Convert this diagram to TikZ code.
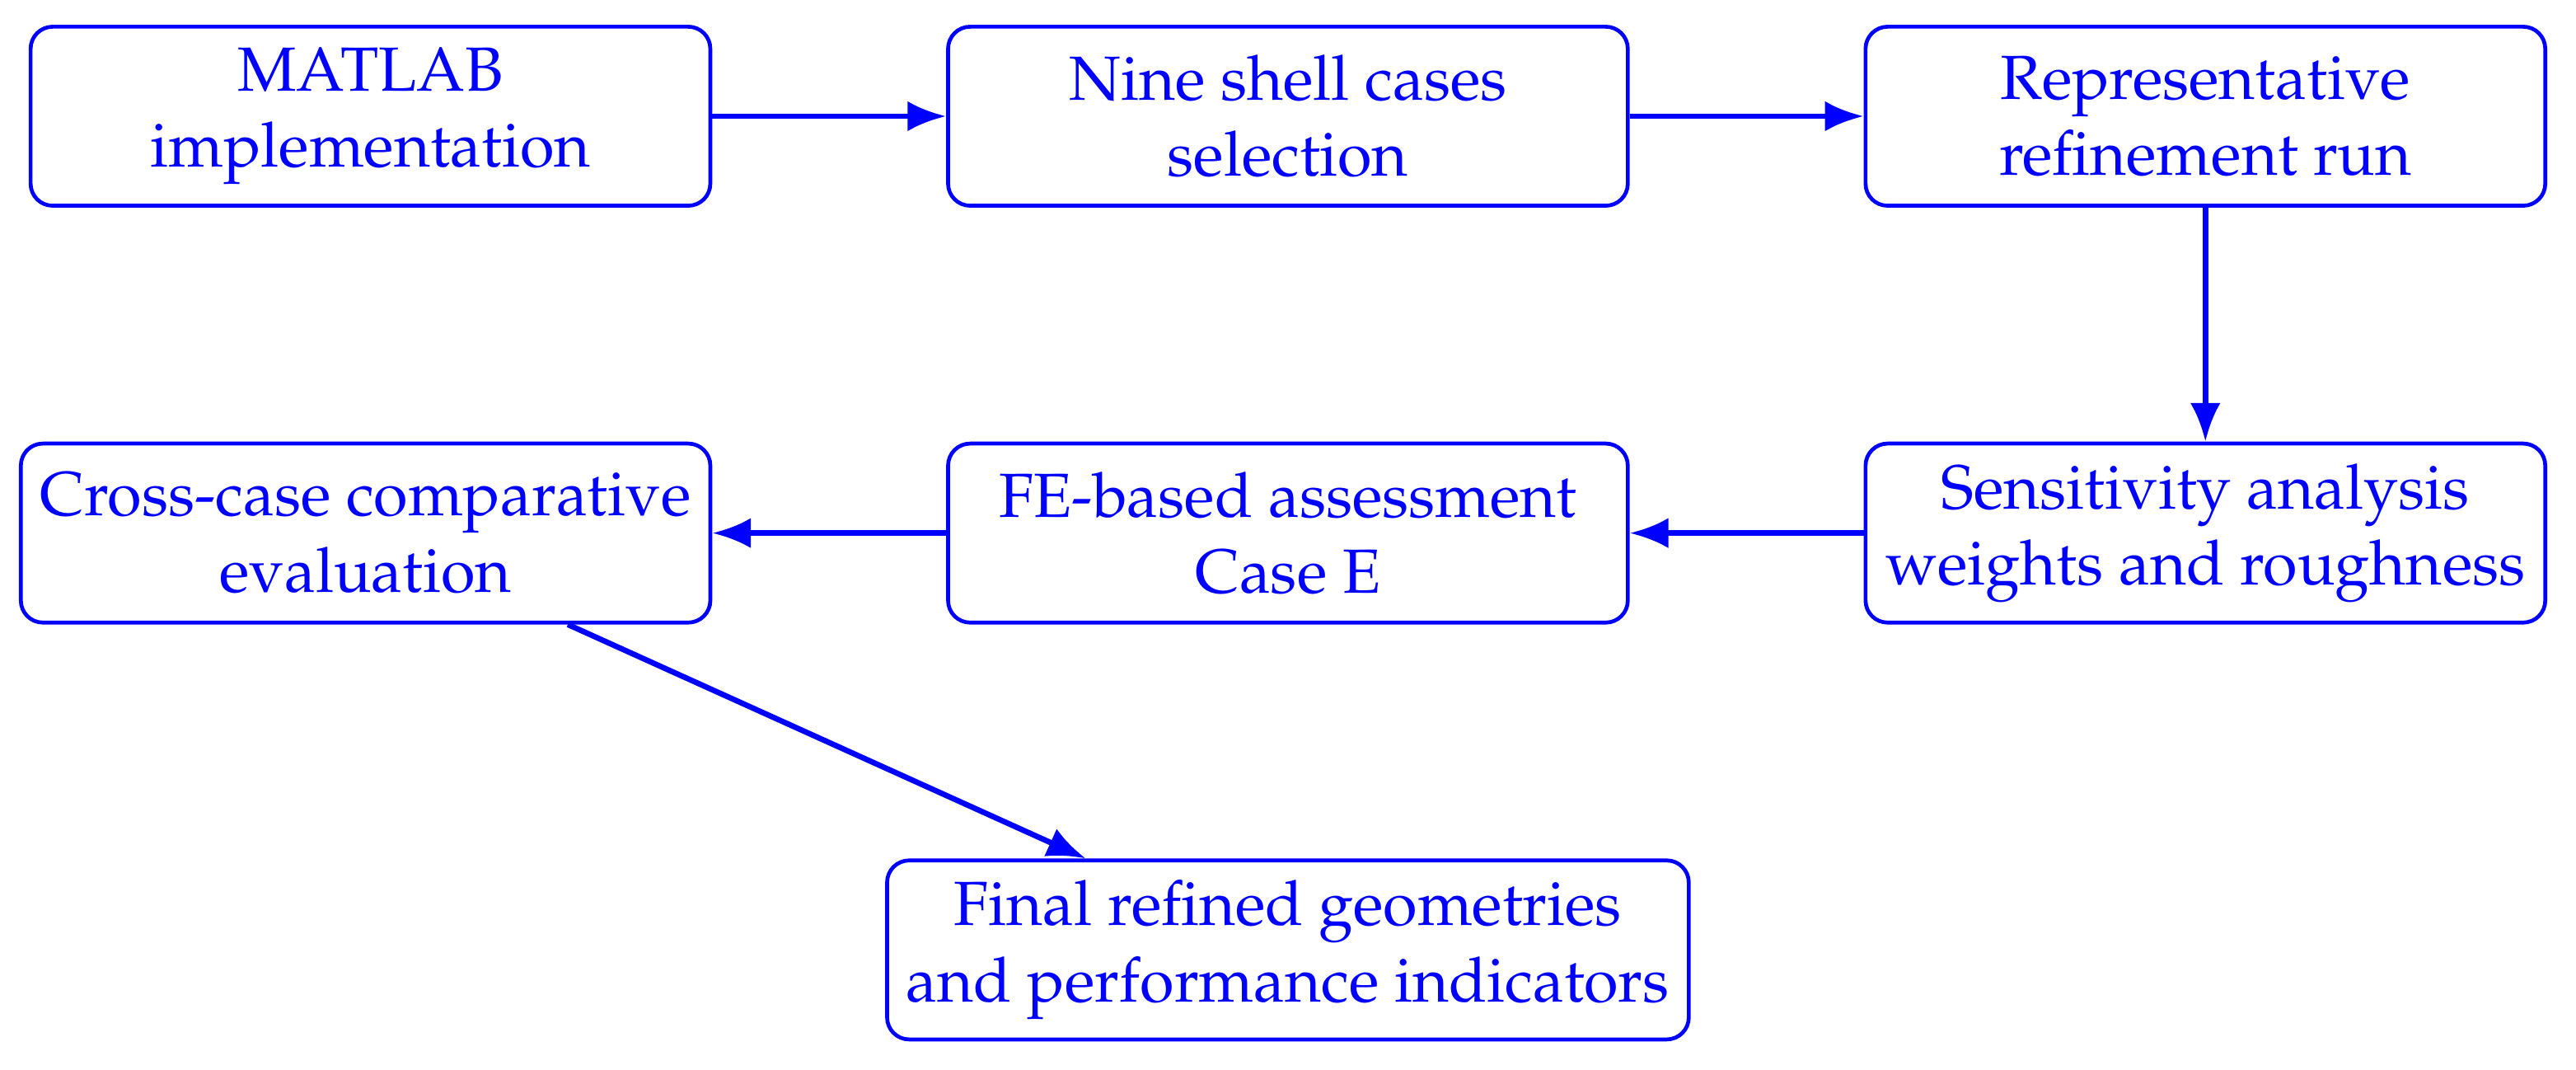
\documentclass[tikz,border=0pt]{standalone}
\usepackage[T1]{fontenc}
\usepackage{mathpazo}
\usepackage{tikz}
\usetikzlibrary{arrows.meta, positioning}
\tikzset{
    stage/.style={rectangle, rounded corners=4pt, minimum width=4.33cm, minimum height=1.14cm, inner xsep=3.5pt, align=center, draw=blue, line width=0.7pt, text=blue, font=\fontsize{11.3}{13.8}\selectfont},
    arrow/.style={line width=1pt, blue, -{Latex[length=7pt, width=5.5pt]}}
}
\begin{document}
\begin{tikzpicture}[node distance=1.49cm]
    \useasboundingbox (0,0) rectangle (16.41,-6.81);
    \node (matlab) [stage] at (2.36,-0.74) {MATLAB\\implementation};
    \node (cases) [stage, right=of matlab] {Nine shell cases\\selection};
    \node (run) [stage, right=of cases] {Representative\\refinement run};
    \node (sens) [stage, below=of run] {Sensitivity analysis\\weights and roughness};
    \node (fe) [stage, left=of sens] {FE-based assessment\\Case E};
    \node (eval) [stage, left=of fe] {Cross-case comparative\\evaluation};
    \node (final) [stage, below=of fe] {Final refined geometries\\and performance indicators};

    \draw [arrow] (matlab) -- (cases);
    \draw [arrow] (cases) -- (run);
    \draw [arrow] (run) -- (sens);
    \draw [arrow] (sens) -- (fe);
    \draw [arrow] (fe) -- (eval);
    \draw [arrow] (eval) -- (final);
\end{tikzpicture}
\end{document}
